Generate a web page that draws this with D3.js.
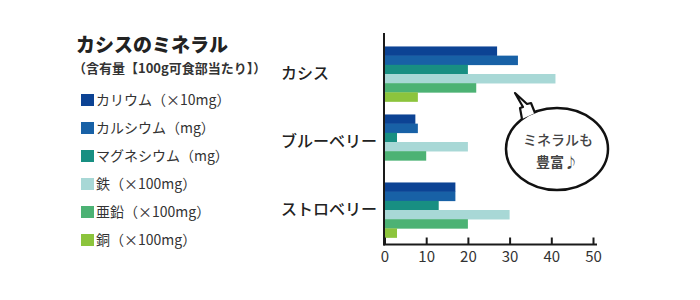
<!DOCTYPE html>
<html>
<head>
<meta charset="utf-8">
<script src="https://cdn.jsdelivr.net/npm/d3@7"></script>
<style>
  body { margin: 0; background: #fff; }
  text { font-family: "Noto Sans CJK JP", "Noto Sans", sans-serif; }
</style>
</head>
<body>
<div id="chart"></div>
<script>
// fruits (rows) and minerals (series)
const fruits = ["カシス", "ブルーベリー", "ストロベリー"];
const minerals = ["カリウム", "カルシウム", "マグネシウム", "鉄", "亜鉛", "銅"];
const legendLabels = [
  "カリウム（×10mg）",
  "カルシウム（mg）",
  "マグネシウム（mg）",
  "鉄（×100mg）",
  "亜鉛（×100mg）",
  "銅（×100mg）"
];
const colors = ["#0c4394", "#1861a6", "#188f82", "#a8d8d6", "#4cb274", "#8cc43c"];

// values per fruit, in mineral order (null = no bar)
const cassisValues = [27, 32, 20, 41, 22, 8];
const blueberryValues = [7.4, 8, 3, 20, 10, null];
const strawberryValues = [17, 17, 13, 30, 20, 3];
const xTicks = [0, 10, 20, 30, 40, 50];

const valuesByFruit = [cassisValues, blueberryValues, strawberryValues];

const width = 700, height = 300;

const svg = d3.select("#chart")
  .append("svg")
  .attr("width", width)
  .attr("height", height);

svg.append("rect").attr("width", width).attr("height", height).attr("fill", "#fff");

// scales
const x = d3.scaleLinear().domain([0, 50]).range([384.5, 593]);
const y = d3.scaleBand().domain(fruits).range([37, 247]).paddingInner(0.19).paddingOuter(0.139);
const yInner = d3.scaleBand().domain(minerals).range([0, y.bandwidth()]);
const color = d3.scaleOrdinal().domain(minerals).range(colors);

// bars
const groups = svg.selectAll(".group")
  .data(fruits)
  .join("g")
  .attr("class", "group")
  .attr("transform", d => `translate(0,${y(d)})`);

groups.selectAll("rect")
  .data((d, i) => minerals.map((m, j) => ({ mineral: m, value: valuesByFruit[i][j] }))
    .filter(e => e.value != null))
  .join("rect")
  .attr("x", x(0))
  .attr("y", d => yInner(d.mineral))
  .attr("width", d => x(d.value) - x(0))
  .attr("height", yInner.bandwidth() + 0.3)
  .attr("fill", d => color(d.mineral));

// category labels
svg.selectAll(".cat")
  .data(fruits)
  .join("text")
  .attr("class", "cat")
  .attr("x", 281)
  .attr("y", d => y(d) + y.bandwidth() / 2 + 1)
  .attr("dominant-baseline", "middle")
  .attr("font-size", 16)
  .attr("font-weight", 500)
  .attr("fill", "#222")
  .text(d => d);

// x axis (ticks pointing up)
const axisY = 244.5;
const xAxis = svg.append("g")
  .attr("transform", `translate(0,${axisY})`)
  .call(d3.axisBottom(x).tickValues(xTicks).tickSizeInner(-7).tickSizeOuter(0).tickPadding(5))
  .call(g => g.select(".domain").attr("d", `M${x(0) - 1},0H597`).attr("stroke", "#1a1a1a").attr("stroke-width", 2));

xAxis.selectAll(".tick line").attr("stroke", "#1a1a1a").attr("stroke-width", 2);
xAxis.selectAll(".tick text")
  .attr("font-size", 15)
  .attr("fill", "#333")
  .attr("font-family", "'DejaVu Sans', sans-serif")
  .attr("dy", "0.85em");

// vertical axis line
svg.append("line")
  .attr("x1", x(0) - 0.5).attr("x2", x(0) - 0.5)
  .attr("y1", 33).attr("y2", axisY + 1)
  .attr("stroke", "#1a1a1a").attr("stroke-width", 2);

// title
svg.append("text")
  .attr("x", 76).attr("y", 52)
  .attr("font-size", 19).attr("font-weight", 900)
  .attr("fill", "#222")
  .text("カシスのミネラル");

svg.append("text")
  .attr("x", 73).attr("y", 73)
  .attr("font-size", 13).attr("font-weight", "bold")
  .attr("fill", "#333")
  .text("（含有量【100g可食部当たり】）");

// legend
const legend = svg.selectAll(".legend")
  .data(minerals)
  .join("g")
  .attr("class", "legend")
  .attr("transform", (d, i) => `translate(81,${100 + i * 28})`);

legend.append("rect")
  .attr("x", 0).attr("y", -6)
  .attr("width", 13).attr("height", 12)
  .attr("fill", d => color(d));

legend.append("text")
  .attr("x", 15).attr("y", 1)
  .attr("dominant-baseline", "middle")
  .attr("font-size", 14)
  .attr("fill", "#333")
  .text((d, i) => legendLabels[i]);

// speech bubble
const bubble = svg.append("g");
bubble.append("ellipse")
  .attr("cx", 557).attr("cy", 149)
  .attr("rx", 51).attr("ry", 41)
  .attr("fill", "#fff")
  .attr("stroke", "#111").attr("stroke-width", 2.5);

bubble.append("path")
  .attr("d", "M522,119 L520,108 L523,107 L515,93 L527,104 L531,103 L535,113")
  .attr("fill", "#fff")
  .attr("stroke", "#111").attr("stroke-width", 2.2)
  .attr("stroke-linejoin", "round");

bubble.append("text")
  .attr("x", 558).attr("y", 141)
  .attr("text-anchor", "middle").attr("dominant-baseline", "middle")
  .attr("font-size", 14).attr("font-weight", 500)
  .attr("fill", "#444")
  .text("ミネラルも");

bubble.append("text")
  .attr("x", 557).attr("y", 163)
  .attr("text-anchor", "middle").attr("dominant-baseline", "middle")
  .attr("font-size", 14).attr("font-weight", "bold")
  .attr("fill", "#444")
  .text("豊富♪");
</script>
</body>
</html>
